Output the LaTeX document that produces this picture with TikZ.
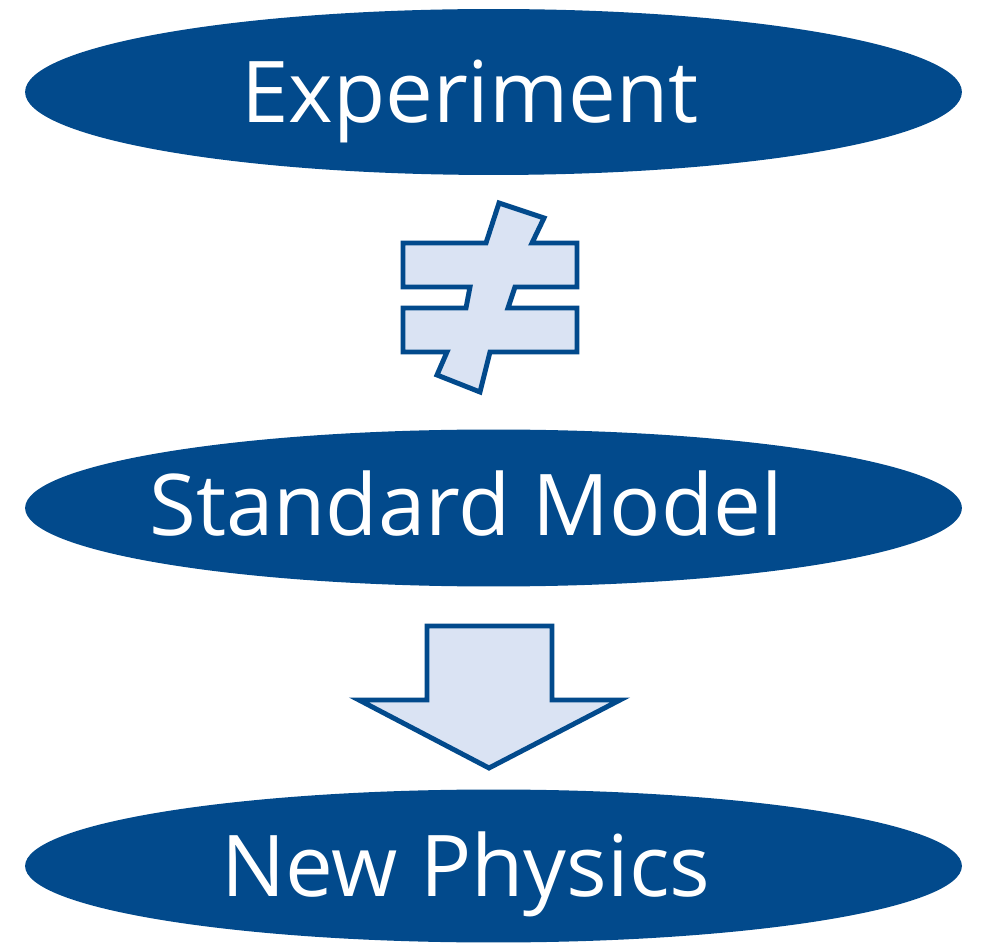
\documentclass[tikz,border=0pt]{standalone}
\usepackage{fontspec}
\setmainfont{Open Sans}
\usetikzlibrary{shapes.geometric}
\definecolor{darkblue}{RGB}{2,74,140}
\definecolor{paleblue}{RGB}{218,227,243}

\tikzstyle{oval} = [ellipse, fill=darkblue, minimum width=18.74cm, inner sep=0pt]
\tikzstyle{word} = [text=white, anchor=base, inner sep=0pt, font=\fontsize{48.5}{58}\selectfont]
\tikzstyle{sign} = [draw=darkblue, fill=paleblue, line width=2.8pt, line join=miter]

\begin{document}
\begin{tikzpicture}[x=0.02cm, y=-0.02cm]
\useasboundingbox (0,0) rectangle (981,945);
% the three ovals
\node[oval, minimum height=3.32cm] (exp) at (493.5,92) {};
\node[word] (exptext) at (470,123) {Experiment};
\node[oval, minimum height=3.14cm] (sm) at (493.5,508) {};
\node[word] (smtext) at (466,536) {Standard Model};
\node[oval, minimum height=3.06cm] (np) at (493.5,866) {};
\node[word] (nptext) at (466,896) {New Physics};
% not equal sign
\draw[sign] (499,203) -- (544,218) -- (532,243) -- (577,243) -- (577,287)
    -- (515,287) -- (508,308) -- (577,308) -- (577,352) -- (490,352)
    -- (480,392) -- (437,375) -- (447,352) -- (403,352) -- (403,308)
    -- (466,308) -- (470,287) -- (403,287) -- (403,243) -- (486,243) -- cycle;
% block arrow
\draw[sign] (427,626) -- (552,626) -- (552,700) -- (620,700) -- (489,768)
    -- (359,700) -- (427,700) -- cycle;
\end{tikzpicture}
\end{document}
